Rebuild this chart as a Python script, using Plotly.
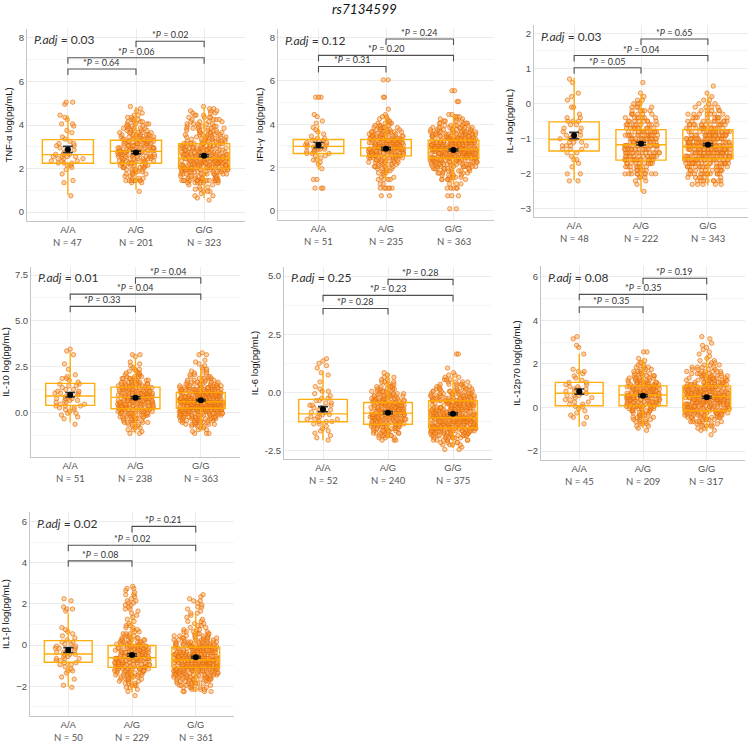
import numpy as np
import plotly.graph_objects as go

W, H = 749, 743
GENOTYPES = ["A/A", "A/G", "G/G"]
TITLE = "rs7134599"

# ---------------- TNF-alpha ----------------
TNF_LEVELS = [0.55, 0.65, 0.75, 0.85, 0.95, 1.05, 1.15, 1.25, 1.35, 1.45, 1.55, 1.65, 1.75, 1.85, 1.95, 2.05,
              2.15, 2.25, 2.35, 2.45, 2.55, 2.65, 2.75, 2.85, 2.95, 3.05, 3.15, 3.25, 3.35, 3.45, 3.55, 3.65,
              3.75, 3.85, 3.95, 4.05, 4.15, 4.25, 4.35, 4.45, 4.55, 4.65, 4.75, 4.85, 4.95, 5.05]
TNF_AA = [0, 0, 1, 0, 0, 0, 0, 0, 1, 1, 0, 0, 1, 0, 1, 1, 2, 3, 3, 3, 4, 3, 2, 2, 1, 2, 2, 1, 1, 1, 0, 1,
          1, 0, 1, 2, 0, 1, 1, 1, 0, 0, 0, 0, 1, 2]
TNF_AG = [0, 0, 0, 0, 1, 0, 0, 0, 2, 7, 3, 2, 4, 4, 5, 6, 7, 7, 8, 8, 9, 9, 10, 10, 10, 9, 9, 9, 8, 8, 7, 6,
          5, 5, 4, 4, 4, 3, 2, 2, 1, 1, 1, 1, 0, 0]
TNF_GG = [1, 1, 2, 1, 3, 2, 2, 2, 6, 16, 7, 7, 10, 10, 14, 14, 16, 16, 15, 15, 13, 13, 12, 12, 11, 10, 9, 9,
          8, 7, 7, 6, 6, 6, 5, 5, 4, 4, 4, 3, 3, 3, 2, 1, 0, 0]
TNF_Q1 = [2.24, 2.24, 2.02]
TNF_MED = [2.64, 2.79, 2.47]
TNF_Q3 = [3.33, 3.30, 3.14]
TNF_LO = [0.80, 1.03, 0.65]
TNF_HI = [4.45, 4.83, 4.80]
TNF_MEAN = [2.88, 2.74, 2.59]
TNF_SE = [0.14, 0.06, 0.05]
TNF_N = [47, 201, 323]
TNF_P = ["0.64", "0.06", "0.02"]
TNF_PADJ = "0.03"
TNF_BRACKET_Y = [6.57, 7.09, 7.85]

# ---------------- IFN-gamma ----------------
IFN_LEVELS = [0.1, 0.7, 1.05, 1.25, 1.45,
              1.55, 1.65, 1.75, 1.85, 1.95, 2.05, 2.15, 2.25, 2.35, 2.45, 2.55, 2.65, 2.75, 2.85, 2.95,
              3.05, 3.15, 3.25, 3.35, 3.45, 3.55, 3.65, 3.75, 3.85, 3.95, 4.05, 4.15, 4.25, 4.35, 4.45,
              4.7, 5.05, 5.25, 5.55, 6.05]
IFN_AA = [0, 0, 3, 0, 2,
          0, 0, 0, 0, 1, 0, 1, 1, 2, 1, 2, 3, 3, 4, 4,
          4, 3, 3, 2, 1, 1, 1, 1, 1, 0, 1, 1, 0, 1, 1,
          0, 0, 3, 0, 0]
IFN_AG = [0, 2, 6, 2, 4,
          2, 1, 3, 3, 4, 5, 6, 6, 8, 9, 11, 12, 14, 14, 15,
          14, 13, 12, 11, 10, 8, 8, 6, 6, 4, 4, 2, 2, 2, 1,
          1, 0, 2, 0, 2]
IFN_GG = [2, 3, 5, 3, 6,
          4, 4, 6, 6, 9, 9, 12, 12, 15, 15, 18, 18, 21, 20, 20,
          21, 18, 18, 15, 15, 12, 12, 9, 8, 6, 5, 4, 3, 3, 2,
          0, 2, 0, 2, 0]
IFN_Q1 = [2.65, 2.54, 2.43]
IFN_MED = [2.98, 2.91, 2.84]
IFN_Q3 = [3.30, 3.30, 3.26]
IFN_LO = [1.90, 1.41, 1.21]
IFN_HI = [3.95, 4.39, 4.44]
IFN_MEAN = [3.04, 2.87, 2.81]
IFN_SE = [0.12, 0.05, 0.045]
IFN_N = [51, 235, 363]
IFN_P = ["0.31", "0.20", "0.24"]
IFN_PADJ = "0.12"
IFN_BRACKET_Y = [6.67, 7.18, 7.94]

# ---------------- IL-4 ----------------
IL4_LEVELS = [-2.5, -2.4, -2.3, -2.2, -2.1, -2.0, -1.9, -1.8, -1.7, -1.6, -1.5, -1.4, -1.3, -1.2, -1.1, -1.0, -0.9,
              -0.8, -0.7, -0.6, -0.5, -0.4, -0.3, -0.2, -0.1, 0.0, 0.1, 0.2, 0.3, 0.4, 0.5, 0.6, 0.7]
IL4_AA = [0, 0, 0, 2, 0, 2, 0, 1, 1, 2, 1, 2, 3, 4, 3, 5, 3, 2, 2, 2, 3, 2, 1, 0, 2, 0, 1, 1, 1, 0, 0, 1, 1]
IL4_AG = [1, 0, 1, 2, 3, 9, 6, 8, 10, 13, 13, 14, 14, 15, 15, 14, 14, 12, 11, 9, 8, 7, 6, 5, 4, 3, 2, 1, 1, 0, 0, 1, 0]
IL4_GG = [0, 0, 5, 8, 6, 12, 10, 14, 19, 21, 23, 24, 25, 25, 24, 22, 19, 17, 14, 12, 10, 9, 7, 5, 4, 3, 2, 1, 1, 0, 1, 0, 0]
IL4_Q1 = [-1.35, -1.61, -1.57]
IL4_MED = [-1.02, -1.17, -1.23]
IL4_Q3 = [-0.52, -0.74, -0.74]
IL4_LO = [-2.18, -2.51, -2.33]
IL4_HI = [0.74, 0.27, 0.28]
IL4_MEAN = [-0.91, -1.14, -1.17]
IL4_SE = [0.09, 0.04, 0.03]
IL4_N = [48, 222, 343]
IL4_P = ["0.05", "0.04", "0.65"]
IL4_PADJ = "0.03"
IL4_BRACKET_Y = [1.02, 1.37, 1.84]

# ---------------- IL-10 ----------------
IL10_LEVELS = [-1.25, -1.15, -1.05, -0.95, -0.85, -0.75, -0.65, -0.55, -0.45, -0.35, -0.25, -0.15, -0.05, 0.05,
               0.15, 0.25, 0.35, 0.45, 0.55, 0.65, 0.75, 0.85, 0.95, 1.05, 1.15, 1.25, 1.35, 1.45, 1.55, 1.65,
               1.75, 1.85, 1.95, 2.05, 2.15, 2.25, 2.35, 2.45, 2.55, 2.65, 2.75, 2.85, 2.95, 3.05, 3.15, 3.25,
               3.35, 3.45]
IL10_AA = [0, 0, 0, 0, 0, 0, 1, 0, 0, 1, 1, 1, 2, 1, 2, 2, 3, 2, 2, 3, 3, 2, 2, 3, 2, 2, 1, 2, 2, 1,
           1, 2, 1, 1, 0, 0, 1, 0, 0, 1, 0, 0, 0, 0, 1, 0, 1, 1]
IL10_AG = [0, 2, 1, 2, 2, 2, 3, 4, 5, 5, 6, 7, 8, 8, 9, 10, 10, 11, 11, 11, 11, 11, 10, 10, 10, 9, 8, 8, 7, 6,
           5, 5, 4, 3, 3, 2, 2, 1, 1, 1, 1, 0, 0, 1, 2, 0, 0, 0]
IL10_GG = [0, 3, 1, 2, 2, 3, 6, 6, 8, 8, 11, 11, 14, 14, 18, 18, 21, 21, 21, 20, 19, 18, 16, 15, 13, 13, 10, 9,
           7, 6, 5, 4, 3, 3, 2, 2, 2, 1, 1, 1, 1, 1, 0, 0, 2, 1, 0, 0]
IL10_Q1 = [0.38, 0.20, 0.22]
IL10_MED = [0.89, 0.82, 0.58]
IL10_Q3 = [1.58, 1.38, 1.09]
IL10_LO = [-0.56, -1.15, -1.05]
IL10_HI = [3.30, 3.00, 2.40]
IL10_MEAN = [0.96, 0.80, 0.66]
IL10_SE = [0.12, 0.06, 0.04]
IL10_N = [51, 238, 363]
IL10_P = ["0.33", "0.04", "0.04"]
IL10_PADJ = "0.01"
IL10_BRACKET_Y = [5.79, 6.46, 7.35]

# ---------------- IL-6 ----------------
IL6_LEVELS = [-2.45, -2.35, -2.25, -2.15, -2.05, -1.95, -1.85, -1.75, -1.65, -1.55, -1.45, -1.35, -1.25, -1.15,
              -1.05, -0.95, -0.85, -0.75, -0.65, -0.55, -0.45, -0.35, -0.25, -0.15, -0.05, 0.05, 0.15, 0.25,
              0.35, 0.45, 0.55, 0.65, 0.75, 0.85, 0.95, 1.05, 1.15, 1.25, 1.35, 1.45, 1.55, 1.65]
IL6_AA = [0, 0, 0, 0, 1, 1, 1, 1, 2, 1, 1, 2, 3, 3, 3, 2, 3, 3, 2, 3, 2, 2, 2, 1, 1, 2, 1, 1, 0, 1,
          0, 0, 1, 1, 0, 1, 1, 1, 1, 1, 0, 0]
IL6_AG = [0, 0, 0, 0, 3, 3, 6, 6, 8, 8, 10, 10, 12, 13, 14, 14, 15, 14, 13, 14, 12, 11, 9, 9, 7, 7, 5, 5,
          3, 3, 2, 2, 1, 1, 0, 0, 0, 0, 0, 0, 0, 0]
IL6_GG = [2, 1, 4, 4, 7, 7, 12, 12, 17, 17, 19, 19, 20, 20, 19, 19, 17, 17, 17, 16, 15, 15, 13, 13, 10, 10, 7,
          6, 5, 4, 3, 2, 2, 1, 0, 1, 0, 0, 0, 0, 0, 2]
IL6_Q1 = [-1.26, -1.37, -1.53]
IL6_MED = [-0.92, -0.89, -1.09]
IL6_Q3 = [-0.30, -0.43, -0.36]
IL6_LO = [-2.05, -1.99, -2.40]
IL6_HI = [0.90, 0.82, 0.74]
IL6_MEAN = [-0.72, -0.87, -0.92]
IL6_SE = [0.11, 0.045, 0.04]
IL6_N = [52, 240, 375]
IL6_P = ["0.28", "0.23", "0.28"]
IL6_PADJ = "0.25"
IL6_BRACKET_Y = [3.61, 4.17, 4.86]

# ---------------- IL-12p70 ----------------
IL12_LEVELS = [-1.25, -1.15, -1.05, -0.95, -0.85, -0.75, -0.65, -0.55, -0.45, -0.35, -0.25, -0.15, -0.05, 0.05,
               0.15, 0.25, 0.35, 0.45, 0.55, 0.65, 0.75, 0.85, 0.95, 1.05, 1.15, 1.25, 1.35, 1.45, 1.55, 1.65,
               1.75, 1.85, 1.95, 2.05, 2.15, 2.25, 2.35, 2.45, 2.55, 2.65, 2.75, 2.85, 2.95, 3.05, 3.15, 3.25]
IL12_AA = [0, 0, 0, 0, 0, 1, 0, 0, 2, 1, 1, 1, 1, 2, 2, 2, 2, 2, 3, 2, 2, 3, 2, 2, 2, 1, 1, 1, 1, 2,
           1, 0, 0, 0, 0, 0, 0, 1, 0, 0, 1, 1, 0, 0, 1, 1]
IL12_AG = [0, 0, 1, 1, 2, 3, 3, 4, 4, 5, 5, 6, 8, 9, 10, 10, 11, 12, 12, 12, 12, 11, 10, 10, 8, 7, 6, 5, 4, 4,
           3, 3, 2, 2, 1, 1, 0, 0, 2, 0, 0, 0, 0, 0, 0, 0]
IL12_GG = [1, 0, 2, 2, 4, 4, 6, 6, 9, 10, 12, 12, 14, 14, 15, 15, 16, 16, 16, 16, 15, 15, 12, 12, 10, 10, 8, 8,
           6, 6, 4, 4, 3, 2, 2, 1, 1, 1, 1, 1, 1, 1, 1, 0, 1, 1]
IL12_Q1 = [0.08, 0.08, -0.15]
IL12_MED = [0.65, 0.57, 0.50]
IL12_Q3 = [1.15, 0.99, 0.99]
IL12_LO = [-0.88, -0.95, -1.10]
IL12_HI = [2.48, 2.25, 2.41]
IL12_MEAN = [0.73, 0.54, 0.47]
IL12_SE = [0.12, 0.05, 0.045]
IL12_N = [45, 209, 317]
IL12_P = ["0.35", "0.35", "0.19"]
IL12_PADJ = "0.08"
IL12_BRACKET_Y = [4.61, 5.19, 5.93]

# ---------------- IL1-beta ----------------
IL1B_LEVELS = [-2.45, -2.35, -2.25, -2.15, -2.05, -1.95, -1.85, -1.75, -1.65, -1.55, -1.45, -1.35, -1.25, -1.15,
               -1.05, -0.95, -0.85, -0.75, -0.65, -0.55, -0.45, -0.35, -0.25, -0.15, -0.05, 0.05, 0.15, 0.25,
               0.35, 0.45, 0.55, 0.65, 0.75, 0.85, 0.95, 1.05, 1.15, 1.25, 1.35, 1.45, 1.55, 1.65, 1.75, 1.85,
               1.95, 2.05, 2.15, 2.25, 2.35, 2.45, 2.55, 2.65, 2.75, 2.85]
IL1B_AA = [0, 0, 0, 0, 1, 1, 0, 0, 1, 1, 0, 1, 2, 1, 1, 2, 2, 2, 3, 2, 3, 3, 2, 3, 2, 2, 2, 1, 1, 1,
           1, 1, 1, 1, 0, 0, 0, 0, 0, 0, 0, 1, 2, 1, 0, 0, 1, 1, 0, 0, 0, 0, 0, 0]
IL1B_AG = [1, 0, 1, 1, 2, 3, 3, 3, 5, 5, 7, 7, 8, 9, 10, 10, 11, 11, 11, 11, 10, 10, 9, 9, 8, 8, 6, 6, 4, 4,
           3, 2, 2, 2, 2, 1, 1, 1, 1, 1, 1, 1, 2, 1, 2, 2, 2, 1, 1, 2, 1, 1, 2, 1]
IL1B_GG = [0, 0, 4, 4, 5, 5, 7, 7, 10, 10, 12, 12, 15, 15, 17, 17, 18, 18, 18, 17, 16, 16, 14, 14, 12, 12, 9,
           8, 7, 6, 5, 4, 3, 2, 2, 2, 2, 1, 1, 1, 2, 1, 1, 2, 1, 1, 2, 1, 1, 1, 0, 0, 0, 0]
IL1B_Q1 = [-0.83, -1.08, -1.08]
IL1B_MED = [-0.43, -0.61, -0.72]
IL1B_Q3 = [0.22, -0.02, -0.10]
IL1B_LO = [-2.02, -2.30, -2.25]
IL1B_HI = [1.55, 1.40, 1.50]
IL1B_MEAN = [-0.24, -0.48, -0.59]
IL1B_SE = [0.12, 0.06, 0.045]
IL1B_N = [50, 229, 361]
IL1B_P = ["0.08", "0.02", "0.21"]
IL1B_PADJ = "0.02"
IL1B_BRACKET_Y = [4.09, 4.85, 5.76]

PANELS = [
    dict(ytitle="TNF-α log(pg/mL)", levels=TNF_LEVELS, counts=[TNF_AA, TNF_AG, TNF_GG], q1=TNF_Q1, med=TNF_MED,
         q3=TNF_Q3, lo=TNF_LO, hi=TNF_HI, mean=TNF_MEAN, se=TNF_SE, n=TNF_N, p=TNF_P, padj=TNF_PADJ,
         by=TNF_BRACKET_Y),
    dict(ytitle="IFN-γ  log(pg/mL)", levels=IFN_LEVELS, counts=[IFN_AA, IFN_AG, IFN_GG], q1=IFN_Q1, med=IFN_MED,
         q3=IFN_Q3, lo=IFN_LO, hi=IFN_HI, mean=IFN_MEAN, se=IFN_SE, n=IFN_N, p=IFN_P, padj=IFN_PADJ,
         by=IFN_BRACKET_Y),
    dict(ytitle="IL-4 log(pg/mL)", levels=IL4_LEVELS, counts=[IL4_AA, IL4_AG, IL4_GG], q1=IL4_Q1, med=IL4_MED,
         q3=IL4_Q3, lo=IL4_LO, hi=IL4_HI, mean=IL4_MEAN, se=IL4_SE, n=IL4_N, p=IL4_P, padj=IL4_PADJ,
         by=IL4_BRACKET_Y),
    dict(ytitle="IL-10 log(pg/mL)", levels=IL10_LEVELS, counts=[IL10_AA, IL10_AG, IL10_GG], q1=IL10_Q1,
         med=IL10_MED, q3=IL10_Q3, lo=IL10_LO, hi=IL10_HI, mean=IL10_MEAN, se=IL10_SE, n=IL10_N, p=IL10_P,
         padj=IL10_PADJ, by=IL10_BRACKET_Y),
    dict(ytitle="IL-6 log(pg/mL)", levels=IL6_LEVELS, counts=[IL6_AA, IL6_AG, IL6_GG], q1=IL6_Q1, med=IL6_MED,
         q3=IL6_Q3, lo=IL6_LO, hi=IL6_HI, mean=IL6_MEAN, se=IL6_SE, n=IL6_N, p=IL6_P, padj=IL6_PADJ,
         by=IL6_BRACKET_Y),
    dict(ytitle="IL-12p70 log(pg/mL)", levels=IL12_LEVELS, counts=[IL12_AA, IL12_AG, IL12_GG], q1=IL12_Q1,
         med=IL12_MED, q3=IL12_Q3, lo=IL12_LO, hi=IL12_HI, mean=IL12_MEAN, se=IL12_SE, n=IL12_N, p=IL12_P,
         padj=IL12_PADJ, by=IL12_BRACKET_Y),
    dict(ytitle="IL1-β log(pg/mL)", levels=IL1B_LEVELS, counts=[IL1B_AA, IL1B_AG, IL1B_GG], q1=IL1B_Q1,
         med=IL1B_MED, q3=IL1B_Q3, lo=IL1B_LO, hi=IL1B_HI, mean=IL1B_MEAN, se=IL1B_SE, n=IL1B_N, p=IL1B_P,
         padj=IL1B_PADJ, by=IL1B_BRACKET_Y),
]

# ---------------- layout (pixels) ----------------
PANEL_PX = [  # left, right, top, bottom of plotting area
    (27, 245, 29, 221),
    (278, 494, 29, 220),
    (534, 748, 25, 217),
    (31, 240, 267, 457),
    (284, 492, 267, 459),
    (541, 745, 266, 460),
    (30, 234, 512, 716),
]
Y_RANGES = [(-0.41, 8.41), (-0.42, 8.40), (-3.23, 2.24), (-2.44, 7.94), (-2.86, 5.39), (-2.41, 6.49), (-3.44, 6.46)]
Y_TICKS = [[0, 2, 4, 6, 8], [0, 2, 4, 6, 8], [-3, -2, -1, 0, 1, 2], [0, 2.5, 5, 7.5], [-2.5, 0, 2.5, 5],
           [-2, 0, 2, 4, 6], [-2, 0, 2, 4, 6]]
Y_TICKTEXT = [None, None, None, ["0.0", "2.5", "5.0", "7.5"], ["-2.5", "0.0", "2.5", "5.0"], None, None]
JITTER_WIDTH = [0.5, 0.55, 0.7]

PT_FILL = "rgba(255,160,60,0.45)"
PT_EDGE = "rgba(228,108,8,0.8)"
BOX_COL = "rgba(255,170,0,0.95)"
GRID = "#EBEBEB"
MINOR = "#F5F5F5"
AXLINE = "#C4C4C4"
TICKFONT = dict(family="Liberation Sans, Arial", size=9.5, color="#4D4D4D")
ANNFONT = "Lato, Open Sans, sans-serif"

fig = go.Figure()
shapes = []
annotations = []
layout_axes = {}

for k, (P, px, yr, yt, ytt) in enumerate(zip(PANELS, PANEL_PX, Y_RANGES, Y_TICKS, Y_TICKTEXT), start=1):
    xa = "x" if k == 1 else f"x{k}"
    ya = "y" if k == 1 else f"y{k}"
    l, r, t, b = px
    xdom = [l / W, r / W]
    ydom = [1 - b / H, 1 - t / H]

    # jittered points
    for g in range(3):
        vals = np.repeat(np.array(P["levels"], dtype=float), P["counts"][g])
        fig.add_trace(go.Box(
            x=[g + 1] * len(vals), y=vals, xaxis=xa, yaxis=ya,
            boxpoints="all", jitter=1, pointpos=0, width=JITTER_WIDTH[g],
            fillcolor="rgba(0,0,0,0)", line=dict(color="rgba(0,0,0,0)", width=0),
            marker=dict(size=4.4, color=PT_FILL, line=dict(color=PT_EDGE, width=0.8)),
            hoverinfo="skip", showlegend=False))

    # box plots from summary statistics
    fig.add_trace(go.Box(
        x=[1, 2, 3], q1=P["q1"], median=P["med"], q3=P["q3"],
        lowerfence=P["lo"], upperfence=P["hi"], xaxis=xa, yaxis=ya,
        width=0.75, whiskerwidth=0, boxpoints=False,
        fillcolor="rgba(0,0,0,0)", line=dict(color=BOX_COL, width=1.4),
        hoverinfo="skip", showlegend=False))

    # mean +/- SE
    fig.add_trace(go.Scatter(
        x=[1, 2, 3], y=P["mean"], xaxis=xa, yaxis=ya, mode="markers",
        marker=dict(color="black", size=6),
        error_y=dict(type="data", array=P["se"], color="#3A3A3A", thickness=1.6, width=5),
        hoverinfo="skip", showlegend=False))

    # significance brackets
    ppu = (b - t) / (yr[1] - yr[0])
    drop = 6.0 / ppu
    pairs = [(1, 2), (1, 3), (2, 3)]
    for (a, c), yb, pv in zip(pairs, P["by"], P["p"]):
        shapes.append(dict(type="path", xref=xa, yref=ya,
                           path=f"M {a},{yb - drop} L {a},{yb} L {c},{yb} L {c},{yb - drop}",
                           line=dict(color="#505050", width=1.1)))
        annotations.append(dict(x=(a + c) / 2, y=yb, xref=xa, yref=ya, yanchor="bottom", xanchor="center",
                                text=f"*<i>P</i> = {pv}", showarrow=False, yshift=-1,
                                font=dict(family=ANNFONT, size=9, color="#333333")))

    # P.adj
    annotations.append(dict(x=0.025, y=1 - 11 / (b - t), xref=f"{xa} domain", yref=f"{ya} domain",
                            xanchor="left", yanchor="middle", showarrow=False,
                            text=f"<i>P.adj</i> = {P['padj']}",
                            font=dict(family=ANNFONT, size=12, color="#333333")))

    # N labels
    for g in range(3):
        annotations.append(dict(x=g + 1, y=0, xref=xa, yref=f"{ya} domain", yanchor="middle",
                                xanchor="center", yshift=-21, showarrow=False,
                                text=f"N = {P['n'][g]}",
                                font=dict(family=ANNFONT, size=9.5, color="#555555")))

    step = yt[1] - yt[0]
    minor_vals = [v + step / 2 for v in [yt[0] - step] + yt]
    minor_vals = [v for v in minor_vals if yr[0] <= v <= yr[1]]

    xkey = "xaxis" if k == 1 else f"xaxis{k}"
    ykey = "yaxis" if k == 1 else f"yaxis{k}"
    layout_axes[xkey] = dict(domain=xdom, anchor=ya, range=[0.4, 3.6], tickmode="array", tickvals=[1, 2, 3],
                             ticktext=GENOTYPES, showgrid=True, gridcolor=GRID, gridwidth=1, zeroline=False,
                             showline=True, linecolor=AXLINE, linewidth=1, ticks="", tickfont=TICKFONT,
                             fixedrange=True)
    yd = dict(domain=ydom, anchor=xa, range=list(yr), tickmode="array", tickvals=yt,
              showgrid=True, gridcolor=GRID, gridwidth=1, zeroline=False, showline=True,
              linecolor=AXLINE, linewidth=1, ticks="", tickfont=TICKFONT, fixedrange=True,
              minor=dict(tickmode="array", tickvals=minor_vals, showgrid=True, gridcolor=MINOR, gridwidth=0.7),
              title=dict(text=P["ytitle"], font=dict(family="Liberation Sans, Arial", size=9.5, color="#111111"),
                         standoff=4))
    if ytt is not None:
        yd["ticktext"] = ytt
    layout_axes[ykey] = yd

annotations.append(dict(x=364 / W, y=1 - 9 / H, xref="paper", yref="paper", xanchor="center", yanchor="middle",
                        text=f"<i>{TITLE}</i>", showarrow=False,
                        font=dict(family=ANNFONT, size=13.5, color="#111111")))

fig.update_layout(
    width=W, height=H, margin=dict(l=0, r=0, t=0, b=0),
    paper_bgcolor="white", plot_bgcolor="white",
    boxmode="overlay", showlegend=False,
    shapes=shapes, annotations=annotations,
    **layout_axes,
)

fig.write_html("out.html")
